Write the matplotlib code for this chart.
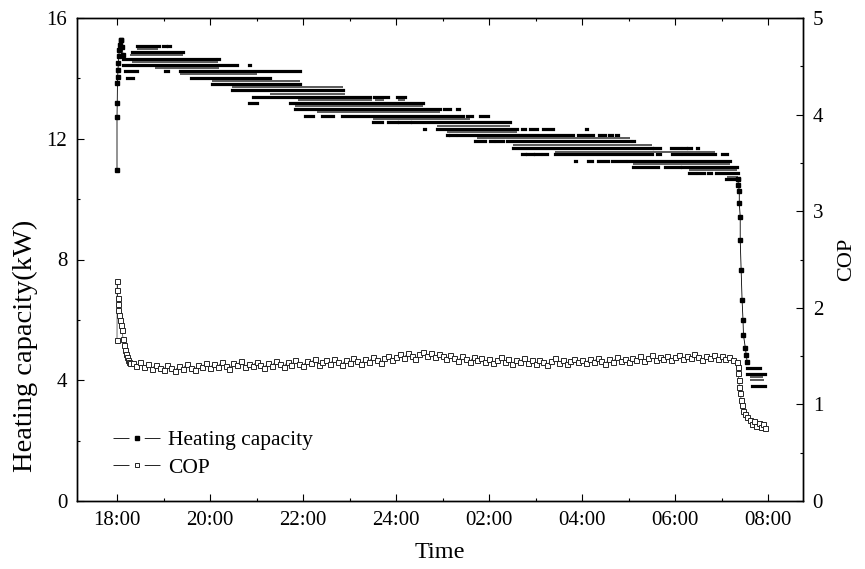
import numpy as np
import matplotlib
matplotlib.use('Agg')
import matplotlib.pyplot as plt
from matplotlib.lines import Line2D
from matplotlib.ticker import MultipleLocator

plt.rcParams['font.family'] = ['Liberation Serif', 'DejaVu Serif']
plt.rcParams['lines.scale_dashes'] = False

# ---------------- data ----------------
# time axis in hours (24+ = next day)
tick_hours = [18, 20, 22, 24, 26, 28, 30, 32]
tick_labels = ['18:00', '20:00', '22:00', '24:00', '02:00', '04:00', '06:00', '08:00']

# Heating capacity: dense quantised rows (level kW, start h, end h)
hc_dense_level = [15.07, 15.07, 15.07,
                  14.86, 14.86,
                  14.65, 14.65,
                  14.44, 14.44, 14.44,
                  14.23, 14.23, 14.23,
                  14.02, 14.02,
                  13.81,
                  13.60, 13.60,
                  13.39, 13.39, 13.39,
                  13.18, 13.18,
                  12.97, 12.97, 12.97,
                  12.75, 12.75, 12.75, 12.75, 12.75,
                  12.54, 12.54, 12.54, 12.54,
                  12.33, 12.33, 12.33, 12.33, 12.33, 12.33,
                  12.12, 12.12, 12.12, 12.12, 12.12, 12.12, 12.12, 12.12,
                  11.91, 11.91, 11.91, 11.91, 11.91,
                  11.70, 11.70, 11.70, 11.70, 11.70, 11.70,
                  11.48, 11.48, 11.48, 11.48, 11.48, 11.48, 11.48, 11.48, 11.48,
                  11.27, 11.27, 11.27, 11.27, 11.27,
                  11.06, 11.06, 11.06,
                  10.85, 10.85, 10.85, 10.85,
                  10.67,
                  4.40, 4.22, 3.80]
hc_dense_start = [18.43, 18.99, 19.10,
                  18.32, 19.71,
                  18.13, 20.18,
                  18.13, 20.72, 20.83,
                  18.17, 19.03, 19.35,
                  18.21, 19.60,
                  20.04,
                  20.47, 23.28,
                  20.92, 23.53, 24.02,
                  20.84, 21.72,
                  21.83, 25.03, 25.31,
                  22.04, 22.41, 22.84, 25.53, 25.81,
                  23.51, 23.83, 24.06, 24.34,
                  24.61, 24.88, 26.71, 26.88, 27.16, 28.08,
                  25.09, 25.16, 25.33, 27.91, 28.09, 28.37, 28.58, 28.73,
                  25.70, 26.02, 26.15, 26.39, 29.09,
                  26.52, 29.55, 29.91, 30.17, 30.28, 30.48,
                  26.71, 26.82, 26.99, 27.16, 27.42, 29.61, 29.94, 30.17, 31.01,
                  27.84, 28.13, 28.34, 28.65, 28.99,
                  29.10, 29.78, 30.15,
                  30.30, 30.49, 30.71, 30.88,
                  31.10,
                  31.55, 31.55, 31.66]
hc_dense_end = [18.90, 19.06, 19.14,
                19.42, 19.73,
                20.11, 20.20,
                20.58, 20.74, 20.85,
                18.43, 19.10, 21.94,
                18.34, 21.30,
                21.94,
                22.86, 23.30,
                23.44, 23.83, 24.19,
                21.01, 24.58,
                24.95, 25.16, 25.35,
                22.21, 22.65, 25.44, 25.63, 25.98,
                23.70, 24.02, 24.30, 26.45,
                24.63, 26.60, 26.77, 27.03, 27.38, 28.10,
                25.11, 25.27, 27.81, 28.02, 28.24, 28.49, 28.65, 28.77,
                25.91, 26.09, 26.30, 29.03, 29.11,
                29.51, 29.68, 30.11, 30.24, 30.34, 30.50,
                26.77, 26.95, 27.10, 27.25, 29.51, 29.68, 30.11, 30.86, 31.12,
                27.86, 28.22, 28.56, 28.92, 31.18,
                29.63, 30.11, 31.33,
                30.43, 30.62, 30.77, 31.35,
                31.38,
                31.83, 31.94, 31.94]

# Heating capacity: sparse in-between rows
hc_sparse_level = [14.97, 14.76, 14.55, 14.34, 14.13, 13.92, 13.71, 13.49,
                   13.28, 13.28, 13.28, 13.08, 12.87, 12.64, 12.42, 12.21,
                   12.01, 11.79, 11.57, 11.18, 10.96, 10.74, 4.12, 4.00]
hc_sparse_start = [18.43, 18.28, 18.32, 18.82, 19.35, 20.04, 20.47, 21.30,
                   21.90, 23.55, 24.04, 21.83, 22.30, 23.51, 24.88, 25.10,
                   25.73, 26.52, 27.42, 29.10, 30.30, 31.12, 31.60, 31.62]
hc_sparse_end = [18.88, 19.42, 20.17, 20.20, 21.01, 21.94, 22.86, 22.90,
                 23.48, 23.75, 24.19, 24.58, 24.95, 25.59, 26.45, 26.60,
                 29.03, 29.51, 30.86, 31.18, 31.33, 31.35, 31.90, 31.92]

# Heating capacity: start-up spike and final drop (individual points)
hc_start_t = [18.00, 18.00, 18.005, 18.01, 18.015, 18.02, 18.03, 18.04,
              18.05, 18.065, 18.08, 18.09, 18.11, 18.13]
hc_start_v = [10.95, 12.72, 13.18, 13.85, 14.04, 14.27, 14.50, 14.74,
              14.94, 15.10, 15.27, 15.27, 15.04, 14.77]
hc_drop_t = [31.35, 31.36, 31.38, 31.38, 31.40, 31.40, 31.42, 31.44,
             31.46, 31.47, 31.51, 31.53, 31.55]
hc_drop_v = [10.67, 10.47, 10.28, 9.87, 9.42, 8.65, 7.65, 6.66,
             6.00, 5.50, 5.07, 4.84, 4.60]

# COP
cop_start_t = [18.00, 18.005, 18.01, 18.015, 18.02, 18.03, 18.04, 18.065,
               18.09, 18.11, 18.13, 18.15, 18.17, 18.19, 18.215, 18.24,
               18.26, 18.29]
cop_start_v = [1.67, 2.28, 2.18, 2.10, 2.04, 1.98, 1.93, 1.87,
               1.82, 1.77, 1.68, 1.62, 1.56, 1.52, 1.49, 1.46,
               1.44, 1.43]
cop_mid_t0 = 18 + 20 / 60      # 18:20, sampled every 5 min
cop_mid_v = [1.43, 1.40, 1.44, 1.39, 1.42, 1.37, 1.41, 1.38,
             1.36, 1.41, 1.38, 1.35, 1.40, 1.37, 1.42, 1.38, 1.36, 1.41, 1.39, 1.43,
             1.38, 1.42, 1.39, 1.44, 1.40, 1.37, 1.43, 1.41, 1.45, 1.39, 1.42, 1.40,
             1.44, 1.41, 1.38, 1.43, 1.40, 1.45, 1.42, 1.39, 1.44, 1.41, 1.46, 1.42,
             1.40, 1.45, 1.43, 1.47, 1.41, 1.44, 1.46, 1.42, 1.47, 1.44, 1.41, 1.46,
             1.43, 1.48, 1.45, 1.42, 1.47, 1.44, 1.49, 1.46, 1.43, 1.48, 1.50, 1.46,
             1.49, 1.52, 1.48, 1.53, 1.50, 1.47, 1.52, 1.54, 1.50, 1.53, 1.49, 1.52,
             1.50, 1.47, 1.51, 1.48, 1.45, 1.50, 1.47, 1.44, 1.49, 1.46, 1.48, 1.44,
             1.47, 1.43, 1.46, 1.49, 1.44, 1.47, 1.42, 1.46, 1.44, 1.48, 1.43, 1.46,
             1.42, 1.46, 1.44, 1.41, 1.45, 1.48, 1.43, 1.46, 1.42, 1.45, 1.47, 1.44,
             1.46, 1.43, 1.47, 1.44, 1.48, 1.45, 1.42, 1.47, 1.44, 1.49, 1.45, 1.47,
             1.44, 1.48, 1.46, 1.50, 1.45, 1.48, 1.51, 1.46, 1.49, 1.47, 1.50, 1.46,
             1.49, 1.51, 1.47, 1.50, 1.48, 1.52, 1.49, 1.46, 1.50, 1.48, 1.51, 1.47,
             1.50, 1.47, 1.49, 1.46, 1.44]
cop_drop_t = [31.35, 31.36, 31.37, 31.38, 31.40, 31.42, 31.44, 31.46, 31.50,
              31.55, 31.60, 31.65, 31.70, 31.75, 31.80, 31.85, 31.90, 31.94]
cop_drop_v = [1.39, 1.33, 1.25, 1.18, 1.12, 1.05, 0.99, 0.93, 0.90,
              0.87, 0.84, 0.80, 0.83, 0.78, 0.81, 0.77, 0.80, 0.76]

# ---------------- figure ----------------
W, H = 865, 569
fig = plt.figure(figsize=(W / 100, H / 100), dpi=100)
ax = fig.add_axes([77 / W, (H - 501) / H, 726 / W, 483 / H])
ax2 = ax.twinx()

# heating capacity rows
lc1 = ax.hlines(hc_dense_level, hc_dense_start, hc_dense_end, colors='black', lw=2.3)
lc1.set_capstyle('projecting')
lc2 = ax.hlines(hc_sparse_level, hc_sparse_start, hc_sparse_end, colors='0.3', lw=1.3)
ax.plot(hc_start_t, hc_start_v, color='black', lw=0.6, marker='s', ms=2.4,
        mfc='black', mec='black')
ax.plot(hc_drop_t, hc_drop_v, color='black', lw=0.6, marker='s', ms=2.4,
        mfc='black', mec='black')

# COP
cop_mid_t = cop_mid_t0 + np.arange(len(cop_mid_v)) * (5 / 60)
cop_t = np.concatenate([cop_start_t, cop_mid_t, cop_drop_t])
cop_v = np.concatenate([cop_start_v, cop_mid_v, cop_drop_v])
ax2.plot(cop_t, cop_v, color='0.2', lw=0.5, marker='s', ms=3.6,
         mfc='white', mec='0.15', mew=0.7)

# axes
ax.set_xlim(17.14, 32.75)
ax.set_ylim(0, 16)
ax2.set_ylim(0, 5)
ax.set_xticks(tick_hours)
ax.set_xticklabels(tick_labels)
ax.xaxis.set_minor_locator(MultipleLocator(1))
ax.yaxis.set_major_locator(MultipleLocator(4))
ax.yaxis.set_minor_locator(MultipleLocator(2))
ax2.yaxis.set_major_locator(MultipleLocator(1))
ax2.yaxis.set_minor_locator(MultipleLocator(0.5))

fs = 15
ax.tick_params(which='both', direction='in', top=True, right=False, labelsize=fs, width=0.8)
ax.tick_params(which='major', length=5)
ax.tick_params(which='minor', length=2.5)
ax.tick_params(axis='x', pad=7)
ax.tick_params(axis='y', pad=7)
ax2.tick_params(which='both', direction='in', labelsize=fs, width=0.8, pad=7)
ax2.tick_params(which='major', length=5)
ax2.tick_params(which='minor', length=2.5)
for a in (ax, ax2):
    for s in a.spines.values():
        s.set_linewidth(1.0)

ax.set_xlabel('Time', fontsize=17.5, labelpad=9)
ax.set_ylabel('Heating capacity(kW)', fontsize=20.5)
ax.yaxis.set_label_coords(-0.054, 0.321)
ax2.set_ylabel('COP', fontsize=16, labelpad=10)

hc_handle = Line2D([0], [0], color='black', lw=0.6, marker='s', ms=2.5,
                   mfc='black', mec='black', dashes=[11.5, 11, 11.5, 0])
cop_handle = Line2D([0], [0], color='black', lw=0.6, marker='s', ms=3,
                    mfc='white', mec='black', mew=0.6, dashes=[11.5, 11, 11.5, 0])
ax.legend([hc_handle, cop_handle], ['Heating capacity', 'COP'], loc='upper left',
          bbox_to_anchor=((113 - 77) / 726, (501 - 430) / 483), frameon=False,
          fontsize=15.5, borderpad=0, borderaxespad=0, handlelength=2.2,
          handletextpad=0.35, labelspacing=0.35)

fig.savefig('out.png', dpi=100)
